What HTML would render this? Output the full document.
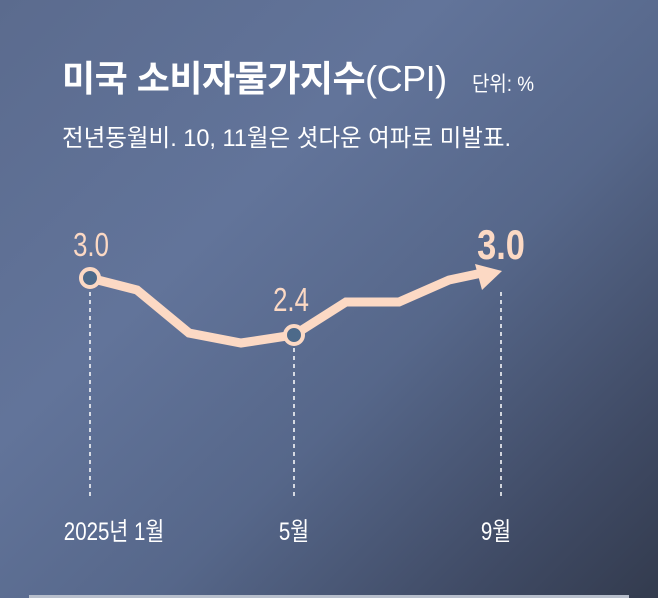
<!DOCTYPE html>
<html><head><meta charset="utf-8"><style>
body{margin:0;width:658px;height:598px;overflow:hidden;}
.bg{position:absolute;left:0;top:0;width:658px;height:598px;background:linear-gradient(135deg,#5b6b8e 0%,#62749a 35%,#56678a 60%,#3f4a64 85%,#333b4e 100%);}
.t{position:absolute;font-family:"Liberation Sans","Noto Sans CJK KR",sans-serif;color:#fff;white-space:nowrap;transform-origin:0 0;}
</style></head><body>
<div class="bg"></div>
<div class="t" style="left:62px;top:50px;font-size:36px;font-weight:bold;letter-spacing:-0.5px;">미국 소비자물가지수<span style="font-weight:normal">(CPI)</span></div>
<div class="t" style="left:472px;top:68px;font-size:21px;transform:scaleX(0.9);">단위: %</div>
<div class="t" style="left:62px;top:118px;font-size:24px;letter-spacing:0px;transform:scaleX(0.98);">전년동월비. 10, 11월은 셧다운 여파로 미발표.</div>
<svg style="position:absolute;left:0;top:0" width="658" height="598">
<g stroke="#fff" stroke-width="1.5" stroke-dasharray="4,4">
<line x1="90" y1="292" x2="90" y2="500"/>
<line x1="294" y1="348" x2="294" y2="500"/>
<line x1="501" y1="292" x2="501" y2="500"/>
</g>
<polyline points="90,278 137,290 189,333 241,343 294,335 346,302 399,302 449,280 482,273" fill="none" stroke="#fcd9c4" stroke-width="9" stroke-linejoin="miter"/>
<polygon points="502,271 475,264 482,290" fill="#fcd9c4"/>
<circle cx="90" cy="278" r="9" fill="#4d6a8a" stroke="#fcd9c4" stroke-width="4"/>
<circle cx="294" cy="335" r="9" fill="#4d6a8a" stroke="#fcd9c4" stroke-width="4"/>
<text transform="translate(91,256) scale(0.78,1)" fill="#fcd9c4" font-family="Liberation Sans" font-size="33" text-anchor="middle">3.0</text>
<text transform="translate(291,311) scale(0.78,1)" fill="#fcd9c4" font-family="Liberation Sans" font-size="33" text-anchor="middle">2.4</text>
<text transform="translate(501,259) scale(0.82,1)" fill="#fcd9c4" font-family="Liberation Sans" font-size="42" font-weight="bold" text-anchor="middle">3.0</text>
<g fill="#fff" font-family="Liberation Sans,Noto Sans CJK KR,sans-serif" font-size="25" text-anchor="middle">
<text transform="translate(114,540) scale(0.82,1)">2025년 1월</text>
<text transform="translate(294,540) scale(0.82,1)">5월</text>
<text transform="translate(496,540) scale(0.82,1)">9월</text>
</g>
<rect x="29" y="595" width="600" height="3" fill="#b8bfcc"/>
</svg>
</body></html>
